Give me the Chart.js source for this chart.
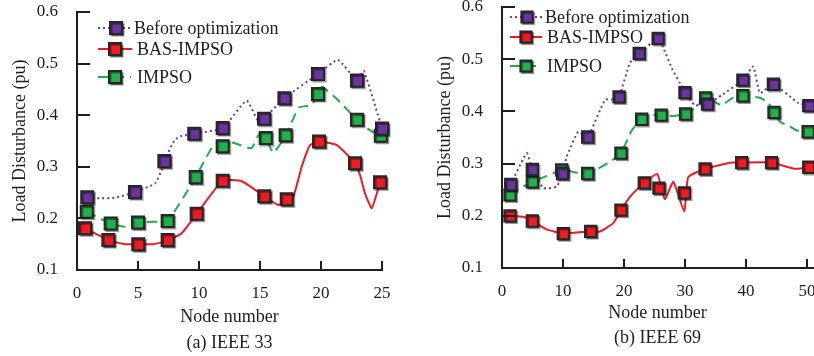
<!DOCTYPE html>
<html>
<head>
<meta charset="utf-8">
<script src="https://cdn.jsdelivr.net/npm/chart.js@4.4.1/dist/chart.umd.min.js"></script>
<style>
html, body { margin: 0; padding: 0; background: #fff; overflow: hidden; width: 814px; height: 356px; }
.box { position: absolute; top: 0; height: 356px; }
#boxA { left: 0; width: 410px; }
#boxB { left: 410px; width: 404px; }
canvas { display: block; }
</style>
</head>
<body>
<div class="box" id="boxA"><canvas id="chartA" width="410" height="356"></canvas></div>
<div class="box" id="boxB"><canvas id="chartB" width="404" height="356"></canvas></div>
<script>
// ---- data: [node, load disturbance (pu)] ----
// (a) IEEE 33
const beforeLine33 = [[0.84,0.241],[1.5,0.239],[3.1,0.240],[4.75,0.251],[6.4,0.268],[6.95,0.294],[7.16,0.311],[8.0,0.352],[8.6,0.360],[9.61,0.364],[11.94,0.375],[13.9,0.428],[15.0,0.381],[15.33,0.393],[17.0,0.433],[19.75,0.480],[21.4,0.507],[22.95,0.467],[23.5,0.486],[25.0,0.374]];
const beforeMarks33 = [[0.84,0.241],[4.75,0.251],[7.16,0.311],[9.61,0.364],[11.94,0.375],[15.33,0.393],[17.0,0.433],[19.75,0.480],[22.95,0.467],[25.0,0.374]];
const basLine33 = [[0.66,0.181],[2.57,0.158],[3.93,0.150],[5.02,0.150],[6.23,0.150],[7.43,0.158],[8.58,0.171],[9.81,0.209],[11.94,0.273],[13.5,0.272],[15.35,0.243],[16.5,0.226],[17.19,0.237],[17.73,0.242],[18.42,0.300],[19.1,0.342],[19.84,0.349],[21.3,0.342],[22.79,0.307],[23.2,0.284],[23.6,0.249],[24.16,0.220],[24.84,0.270]];
const basMarks33 = [[0.66,0.181],[2.57,0.158],[5.02,0.150],[7.43,0.158],[9.81,0.209],[11.94,0.273],[15.35,0.243],[17.19,0.237],[19.84,0.349],[22.79,0.307],[24.84,0.270]];
const impsoLine33 = [[0.8,0.213],[2.76,0.190],[3.9,0.184],[5.0,0.192],[7.43,0.195],[7.76,0.205],[9.26,0.261],[9.73,0.280],[11.15,0.340],[11.94,0.340],[12.7,0.347],[14.3,0.336],[14.9,0.362],[15.47,0.356],[16.1,0.327],[17.1,0.361],[17.7,0.392],[18.2,0.415],[19.2,0.420],[19.75,0.441],[20.1,0.455],[21.4,0.429],[22.95,0.391],[24.0,0.371],[24.9,0.360]];
const impsoMarks33 = [[0.8,0.213],[2.76,0.190],[5.0,0.192],[7.43,0.195],[9.73,0.280],[11.94,0.340],[15.47,0.356],[17.1,0.361],[19.75,0.441],[22.95,0.391],[24.9,0.360]];
const xTicks33 = [0, 5, 10, 15, 20, 25];

// (b) IEEE 69
const beforeLine69 = [[1.43,0.260],[4.05,0.320],[4.97,0.289],[5.7,0.276],[6.77,0.253],[8.97,0.256],[9.92,0.281],[10.6,0.313],[12.5,0.361],[14.05,0.351],[16.9,0.422],[18.5,0.423],[19.2,0.428],[21.0,0.493],[22.5,0.511],[25.6,0.540],[26.4,0.523],[28.0,0.479],[29.2,0.454],[30.0,0.436],[31.6,0.412],[33.7,0.414],[36.0,0.431],[39.5,0.460],[41.2,0.486],[42.3,0.435],[44.5,0.452],[48.6,0.416],[50.3,0.411]];
const beforeMarks69 = [[1.43,0.260],[4.97,0.289],[9.92,0.281],[14.05,0.351],[19.2,0.428],[22.5,0.511],[25.6,0.540],[30.0,0.436],[33.7,0.414],[39.5,0.460],[44.5,0.452],[50.3,0.411]];
const basLine69 = [[1.31,0.200],[3.49,0.198],[4.97,0.190],[7.33,0.174],[10.05,0.166],[12.25,0.168],[14.54,0.170],[16.07,0.170],[18.25,0.186],[19.5,0.211],[21.26,0.240],[23.33,0.263],[25.46,0.280],[26.7,0.232],[28.1,0.265],[29.9,0.208],[30.54,0.274],[33.3,0.290],[37.66,0.302],[39.3,0.302],[44.2,0.302],[48.0,0.290],[50.3,0.293]];
const basMarks69 = [[1.31,0.200],[4.97,0.190],[10.05,0.166],[14.54,0.170],[19.5,0.211],[23.33,0.263],[25.74,0.253],[29.9,0.244],[33.3,0.290],[39.3,0.302],[44.2,0.302],[50.3,0.293]];
const impsoLine69 = [[1.31,0.240],[2.41,0.249],[4.97,0.265],[7.05,0.275],[9.79,0.288],[12.0,0.283],[14.05,0.281],[17.4,0.301],[19.5,0.320],[21.3,0.364],[22.9,0.385],[24.5,0.393],[26.1,0.393],[28.1,0.391],[30.1,0.395],[32.2,0.412],[33.4,0.426],[36.0,0.412],[37.7,0.425],[39.5,0.430],[42.3,0.426],[43.7,0.416],[44.6,0.398],[45.6,0.380],[47.2,0.371],[48.6,0.362],[50.2,0.361]];
const impsoMarks69 = [[1.31,0.240],[4.97,0.265],[9.79,0.288],[14.05,0.281],[19.5,0.320],[22.9,0.385],[26.1,0.393],[30.1,0.395],[33.4,0.426],[39.5,0.430],[44.6,0.398],[50.2,0.361]];
const xTicks69 = [0, 10, 20, 30, 40, 50];

const yTicks = [0.1, 0.2, 0.3, 0.4, 0.5, 0.6];
const seriesNames = ['Before optimization', 'BAS-IMPSO', 'IMPSO'];
const yTitle = 'Load Disturbance (pu)';
const xTitle = 'Node number';

const FONT = "'Liberation Serif', 'Times New Roman', serif";
const INK = '#1e1e1e';
const styles = [
    { color: '#6f3aa6', fill: '#6b349f', dash: [2, 3] },
    { color: '#ec1c24', fill: '#ec1c24', dash: [] },
    { color: '#20ae4a', fill: '#22b14c', dash: [10, 6] }
];

const toXY = pts => pts.map(p => ({ x: p[0], y: p[1] }));

// drop shadow under the square markers
const markerShadow = {
    id: 'markerShadow',
    beforeDatasetDraw(chart, args) {
        if (!chart.data.datasets[args.index].isMarker) return;
        const ctx = chart.ctx;
        ctx.save();
        ctx.shadowColor = 'rgba(0,0,0,0.4)';
        ctx.shadowOffsetX = 1.5;
        ctx.shadowOffsetY = 1.5;
        ctx.shadowBlur = 0.5;
    },
    afterDatasetDraw(chart, args) {
        if (chart.data.datasets[args.index].isMarker) chart.ctx.restore();
    }
};

// inward tick marks
const innerTicks = {
    id: 'innerTicks',
    afterDraw(chart) {
        const { ctx, chartArea } = chart;
        const xs = chart.scales.x, ys = chart.scales.y;
        ctx.save();
        ctx.strokeStyle = INK;
        ctx.lineWidth = 2;
        ctx.beginPath();
        xs.ticks.forEach(t => {
            const px = Math.round(xs.getPixelForValue(t.value));
            ctx.moveTo(px, chartArea.bottom);
            ctx.lineTo(px, chartArea.bottom - 9);
        });
        ys.ticks.forEach(t => {
            const py = Math.round(ys.getPixelForValue(t.value));
            ctx.moveTo(chartArea.left, py);
            ctx.lineTo(chartArea.left + 13, py);
        });
        ctx.stroke();
        ctx.restore();
    }
};

// legend: line sample with square marker, then label
const lineLegend = {
    id: 'lineLegend',
    afterDraw(chart, args, opts) {
        const ctx = chart.ctx;
        const half = opts.half;
        opts.rows.forEach((row, i) => {
            const st = styles[i];
            ctx.save();
            ctx.strokeStyle = st.color;
            ctx.lineWidth = 2;
            ctx.setLineDash(st.dash);
            ctx.beginPath();
            ctx.moveTo(row.x0, row.y);
            ctx.lineTo(row.x1, row.y);
            ctx.stroke();
            ctx.setLineDash([]);
            ctx.shadowColor = 'rgba(0,0,0,0.4)';
            ctx.shadowOffsetX = 1.5;
            ctx.shadowOffsetY = 1.5;
            ctx.shadowBlur = 0.5;
            ctx.fillStyle = st.fill;
            ctx.strokeStyle = '#262626';
            ctx.beginPath();
            ctx.rect(row.m - half, row.y - half, half * 2, half * 2);
            ctx.fill();
            ctx.stroke();
            ctx.restore();
            ctx.save();
            ctx.fillStyle = INK;
            ctx.font = '18px ' + FONT;
            ctx.textBaseline = 'middle';
            ctx.textAlign = 'left';
            ctx.fillText(seriesNames[i], row.tx, row.y + 1);
            ctx.restore();
        });
    }
};

function buildChart(canvasId, cfg) {
    const markSets = [cfg.beforeMarks, cfg.basMarks, cfg.impsoMarks];
    const lineSets = [cfg.beforeLine, cfg.basLine, cfg.impsoLine];
    const datasets = [];
    markSets.forEach((pts, i) => {
        datasets.push({
            label: seriesNames[i],
            data: toXY(pts),
            isMarker: true,
            showLine: false,
            pointStyle: 'rect',
            pointRadius: cfg.markRadius,
            pointBackgroundColor: styles[i].fill,
            pointBorderColor: '#262626',
            pointBorderWidth: 2,
            clip: false,
            order: i
        });
    });
    lineSets.forEach((pts, i) => {
        datasets.push({
            label: seriesNames[i] + ' line',
            data: toXY(pts),
            borderColor: styles[i].color,
            borderWidth: 2,
            borderDash: styles[i].dash,
            pointRadius: 0,
            tension: 0.15,
            fill: false,
            clip: false,
            order: 3 + i
        });
    });

    return new Chart(document.getElementById(canvasId), {
        type: 'line',
        data: { datasets },
        plugins: [markerShadow, innerTicks, lineLegend],
        options: {
            responsive: false,
            animation: false,
            events: [],
            layout: { padding: cfg.padding, autoPadding: false },
            plugins: {
                legend: { display: false },
                tooltip: { enabled: false },
                lineLegend: { rows: cfg.legendRows, half: cfg.markHalf }
            },
            scales: {
                x: {
                    type: 'linear',
                    min: 0,
                    max: cfg.xMax,
                    grid: { display: false, drawTicks: false },
                    border: { display: true, color: INK, width: 2 },
                    ticks: {
                        padding: 13,
                        color: INK,
                        maxRotation: 0,
                        font: { family: FONT, size: 17 }
                    },
                    afterBuildTicks: s => { s.ticks = cfg.xTicks.map(v => ({ value: v })); },
                    afterFit: s => {
                        s.height = cfg.xHeight;
                        s.paddingLeft = 0;
                        s.paddingRight = 0;
                    },
                    title: {
                        display: true,
                        text: [xTitle, cfg.caption],
                        color: INK,
                        padding: { top: 0, bottom: 0 },
                        font: { family: FONT, size: 18, lineHeight: cfg.titleLine }
                    }
                },
                y: {
                    min: 0.1,
                    max: 0.6,
                    grid: { display: false, drawTicks: false },
                    border: { display: true, color: INK, width: 2 },
                    ticks: {
                        padding: 19,
                        color: INK,
                        font: { family: FONT, size: 17 },
                        callback: v => v.toFixed(1)
                    },
                    afterBuildTicks: s => { s.ticks = yTicks.map(v => ({ value: v })); },
                    afterFit: s => {
                        s.width = cfg.yWidth;
                        s.paddingTop = 0;
                        s.paddingBottom = 0;
                    },
                    title: {
                        display: true,
                        text: yTitle,
                        color: INK,
                        padding: { top: cfg.yTitlePad, bottom: 0 },
                        font: { family: FONT, size: 18, lineHeight: 20 / 18 }
                    }
                }
            }
        }
    });
}

buildChart('chartA', {
    beforeLine: beforeLine33, beforeMarks: beforeMarks33,
    basLine: basLine33, basMarks: basMarks33,
    impsoLine: impsoLine33, impsoMarks: impsoMarks33,
    xMax: 25, xTicks: xTicks33,
    caption: '(a) IEEE 33',
    padding: { left: 0, top: 12, right: 28, bottom: 0 },
    yWidth: 77, xHeight: 86, titleLine: 26 / 18, yTitlePad: 10,
    markRadius: 8.5, markHalf: 6,
    legendRows: [
        { x0: 98, x1: 133, m: 116, y: 28, tx: 134 },
        { x0: 98, x1: 132, m: 115, y: 49, tx: 137 },
        { x0: 98, x1: 131, m: 115, y: 77, tx: 137 }
    ]
});

buildChart('chartB', {
    beforeLine: beforeLine69, beforeMarks: beforeMarks69,
    basLine: basLine69, basMarks: basMarks69,
    impsoLine: impsoLine69, impsoMarks: impsoMarks69,
    xMax: 51, xTicks: xTicks69,
    caption: '(b) IEEE 69',
    padding: { left: 0, top: 7, right: 1, bottom: 5.5 },
    yWidth: 92, xHeight: 82.5, titleLine: 25 / 18, yTitlePad: 25,
    markRadius: 8, markHalf: 5.6,
    legendRows: [
        { x0: 100, x1: 133, m: 117, y: 17, tx: 135 },
        { x0: 100, x1: 132, m: 116, y: 37, tx: 137 },
        { x0: 100, x1: 132, m: 116, y: 66, tx: 137 }
    ]
});
</script>
</body>
</html>
